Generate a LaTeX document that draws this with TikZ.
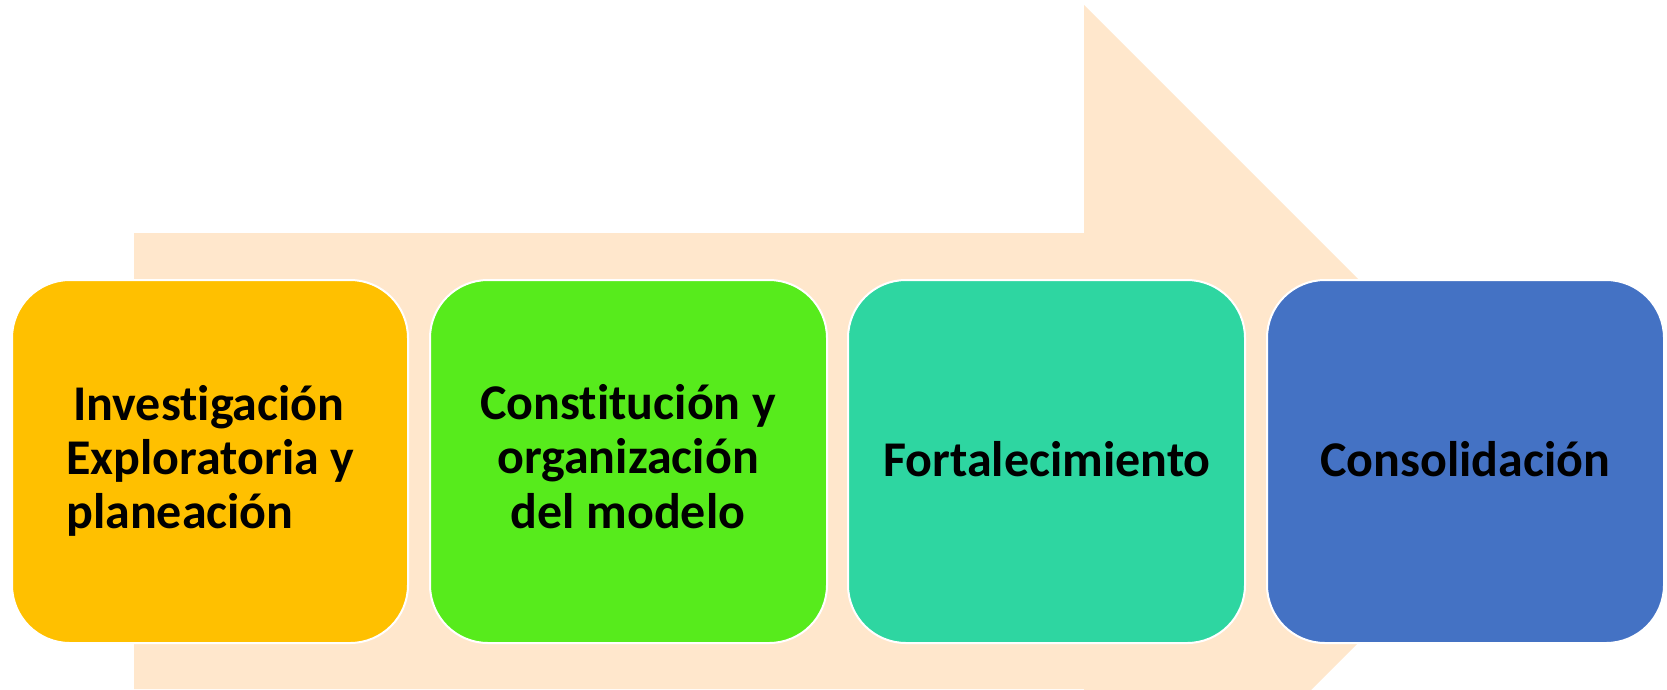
\documentclass[tikz,border=0pt]{standalone}
\usepackage{fontspec}
\setmainfont{Carlito}[Ligatures=NoCommon]
\definecolor{peach}{RGB}{255,231,204}
\definecolor{cOrange}{RGB}{255,192,0}
\definecolor{cGreen}{RGB}{87,235,28}
\definecolor{cTeal}{RGB}{46,214,161}
\definecolor{cBlue}{RGB}{68,114,196}
\tikzset{
  stagebox/.style={draw=white, line width=2pt, rounded corners=58pt},
  lbl/.style={inner sep=0pt, font=\fontsize{50pt}{55pt}\selectfont\bfseries, text=black},
}
\begin{document}
\begin{tikzpicture}[x=1pt,y=-1pt]
\useasboundingbox (0,0) rectangle (1667,689);
\begin{scope}
\clip (0,0) rectangle (1667,689);
\fill[peach] (134,233) -- (1084,233) -- (1084,5) -- (1540,461) -- (1084,917) -- (1084,689) -- (134,689) -- cycle;
\end{scope}
\path[stagebox, fill=cOrange] (12,280) rectangle (408,643);
\path[stagebox, fill=cGreen] (430,280) rectangle (827,643);
\path[stagebox, fill=cTeal] (848,280) rectangle (1245,643);
\path[stagebox, fill=cBlue] (1267,280) rectangle (1664,643);
\node[lbl, anchor=base west] (a1) at (73,420) {Investigación};
\node[lbl, anchor=base west] (a2) at (66,474) {Exploratoria y};
\node[lbl, anchor=base west] (a3) at (66,528) {planeación};
\node[lbl, anchor=base] (b1) at (628,419) {Constitución y};
\node[lbl, anchor=base] (b2) at (628,473) {organización};
\node[lbl, anchor=base] (b3) at (628,528) {del modelo};
\node[lbl, anchor=base] (c1) at (1047,476) {Fortalecimiento};
\node[lbl, anchor=base] (d1) at (1465,476) {Consolidación};
\end{tikzpicture}
\end{document}
